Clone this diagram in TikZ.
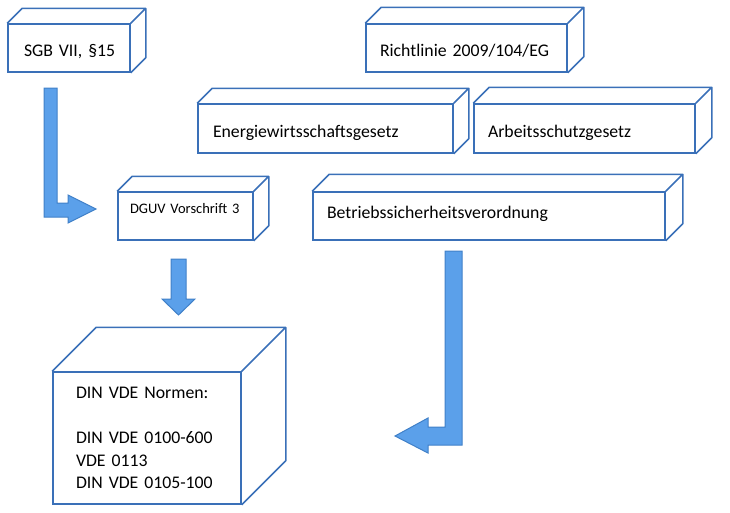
\documentclass[tikz,border=0pt]{standalone}
\usepackage{fontspec}
\setmainfont{Carlito}[WordSpace=0.8]
\usetikzlibrary{calc}
\definecolor{boxblue}{HTML}{3A70B8}
\definecolor{arrowfill}{HTML}{5BA0EA}
\definecolor{arrowline}{HTML}{4080C8}
\begin{document}
\begin{tikzpicture}[x=1pt,y=-1pt,
    quader/.style={draw=boxblue, line width=1.5pt, fill=white, rectangle,
      inner ysep=0pt, align=left, font=\fontsize{17.75}{22.5}\selectfont},
    kante/.style={draw=boxblue, line width=1.5pt, line join=round},
    blockpfeil/.style={fill=arrowfill, draw=arrowline, line width=1pt, line join=miter}]
  \useasboundingbox (0,0) rectangle (730,512);
  \draw
    (69,48) node[quader, minimum height=48pt, text width=90pt, inner xsep=16pt,
      text height=16pt, text depth=0pt] (sgb){\mbox{SGB VII, \S15}}
    (466.5,48) node[quader, minimum height=48pt, text width=173pt, inner xsep=14pt,
      text height=16pt, text depth=0pt] (rl){Richtlinie 2009/104/EG}
    (325.5,128.5) node[quader, minimum height=49pt, text width=225pt, inner xsep=15pt,
      text height=17pt, text depth=0pt] (ewg){Energiewirtsschaftsgesetz}
    (584.5,128.5) node[quader, minimum height=49pt, text width=193pt, inner xsep=14pt,
      text height=17pt, text depth=0pt] (asg){Arbeitsschutzgesetz}
    (185.5,216) node[quader, minimum height=48pt, text width=111pt, inner xsep=12pt,
      text height=10pt, text depth=16pt, font=\fontsize{14.5}{18}\selectfont] (dguv){DGUV Vorschrift 3}
    (489,216) node[quader, minimum height=48pt, text width=324pt, inner xsep=14pt,
      text height=12pt, text depth=8pt] (betr){Betriebssicherheitsverordnung}
    (147,438) node[quader, minimum height=132pt, text width=142pt, inner xsep=23pt] (din){DIN VDE Normen:\\[22.5pt]
      DIN VDE 0100-600\\
      VDE 0113\\
      DIN VDE 0105-100};
  % Deckflaeche und Seitenflaeche
  \foreach \n/\d in {sgb/15, rl/16, ewg/15, asg/16, dguv/15, betr/17, din/44}
    \draw[kante] (\n.north west) -- ++(\d,-\d) -- ($(\n.north east)+(\d,-\d)$)
      -- ($(\n.south east)+(\d,-\d)$) -- (\n.south east)
      (\n.north east) -- ($(\n.north east)+(\d,-\d)$);
  % Blockpfeile
  \path[blockpfeil] (44,88) -- (57,88) -- (57,203) -- (68,203) -- (68,195) -- (96,209)
    -- (68,223) -- (68,217) -- (44,217) -- cycle;
  \path[blockpfeil] (445,251) -- (462,251) -- (462,445) -- (428,445) -- (428,453)
    -- (395,436) -- (428,418) -- (428,427) -- (445,427) -- cycle;
  \path[blockpfeil] (171,259) -- (186,259) -- (186,299) -- (195,299) -- (178.5,315)
    -- (162,299) -- (171,299) -- cycle;
\end{tikzpicture}
\end{document}
